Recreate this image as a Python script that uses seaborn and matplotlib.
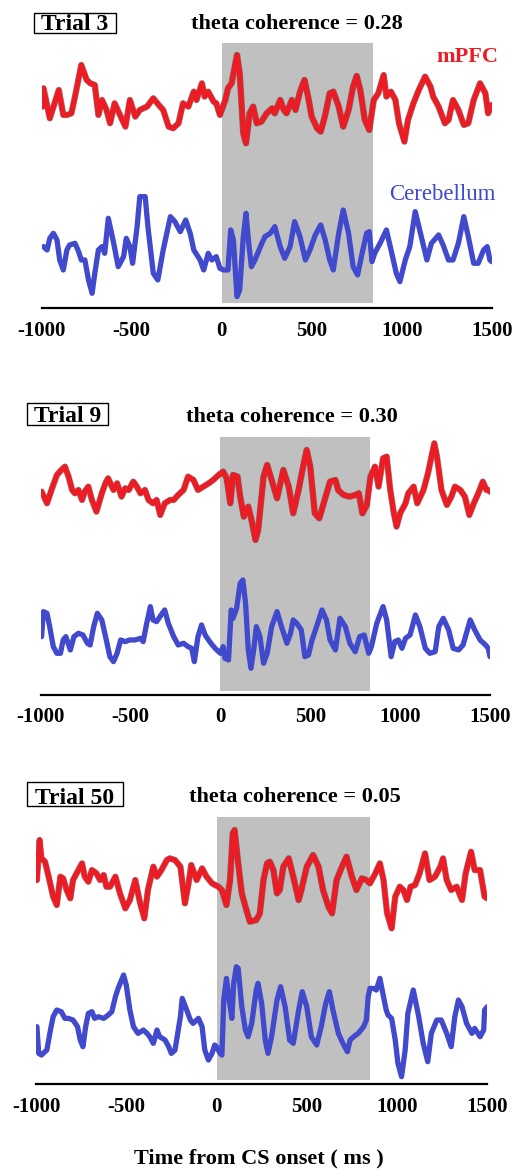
import numpy as np
import pandas as pd
import matplotlib
matplotlib.use("Agg")
import matplotlib.pyplot as plt
import matplotlib.patheffects as pe
from matplotlib.patches import Rectangle
import seaborn as sns

# ---------------- data (time in ms, amplitude in arbitrary units) ----------------
trials = ["Trial 3", "Trial 9", "Trial 50"]
coherence = ["0.28", "0.30", "0.05"]
cs_end = [840, 832, 850]
xticks = [-1000, -500, 0, 500, 1000, 1500]

t1_mpfc = [-995, -990, -955, -905, -880, -860, -835, -815, -780, -750, -730, -705, -685, -665, -640, -620,
           -595, -565, -535, -510, -480, -455, -415, -380, -350, -325, -295, -270, -240, -215, -185, -155,
           -140, -110, -95, -75, -45, -30, -10, 20, 35, 55, 85, 100, 120, 135, 155, 175, 195, 220, 250, 280,
           295, 325, 345, 360, 390, 410, 435, 460, 480, 500, 530, 550, 575, 600, 620, 650, 675, 705, 730,
           750, 770, 795, 820, 845, 870, 900, 915, 940, 965, 985, 1015, 1035, 1065, 1095, 1130, 1160, 1175,
           1205, 1240, 1260, 1285, 1315, 1345, 1370, 1400, 1435, 1465, 1480, 1500]
v1_mpfc = [0, 55, -35, 50, -25, -25, -20, 30, 125, 80, 70, 65, -25, 20, -10, -50,
           10, -25, -60, 20, -30, -10, 0, 25, 5, -10, -60, -65, -50, 10, 0, 45,
           20, 70, 30, 45, 15, 10, -25, 20, 55, 70, 155, 100, -80, -110, -20, 0, -50, -45, -20, -5,
           -20, 20, -10, -20, 20, -10, 45, 80, 30, -30, -65, -75, -25, 40, 45, 0, -60, -10, 60,
           92, 50, -40, -70, 20, 40, 95, 30, 45, 20, -50, -105, -40, 10, 50, 90, 60, 30,
           0, -50, -40, 20, -10, -55, -50, 20, 70, 40, -20, 5]

t1_cb = [-990, -970, -955, -935, -915, -900, -880, -860, -845, -815, -795, -780, -760, -740, -720, -705,
         -685, -665, -650, -630, -600, -575, -545, -530, -510, -495, -470, -455, -425, -410, -380, -355,
         -325, -285, -260, -230, -200, -175, -155, -120, -100, -75, -55, -30, -10, 10, 35, 50, 65, 85,
         100, 120, 135, 150, 165, 185, 215, 240, 270, 295, 325, 350, 380, 405, 435, 465, 490, 520, 550,
         575, 600, 620, 650, 675, 705, 730, 755, 780, 805, 820, 835, 850, 880, 915, 945, 970, 990,
         1020, 1045, 1075, 1100, 1140, 1165, 1205, 1230, 1260, 1285, 1315, 1345, 1370, 1400, 1425,
         1455, 1475, 1490, 1500]
v1_cb = [20, 10, 45, 60, 40, -20, -50, 10, 25, 30, 5, -20, -20, -80, -120, -60,
         10, 20, 0, 105, 30, -40, -10, 45, 20, -30, 80, 170, 170, 80, -60, -80,
         10, 110, 95, 65, 100, 60, 10, -20, -50, 0, -20, -10, -45, -50, -50, 70, 40, -130,
         -110, 50, 120, 30, -40, -20, 20, 50, 60, 80, 20, -15, 20, 95, 50, -20, 10, 55, 85,
         40, -20, -50, 60, 130, 60, -40, -65, 0, 60, 65, -25, 0, 30, 70, 0, -60, -85,
         -20, 20, 125, 70, -20, 30, 55, 25, -20, -20, 30, 110, 50, -30, -30,
         10, 20, -20, -25]

t2_mpfc = [-995, -965, -940, -910, -885, -865, -845, -825, -810, -790, -770, -755, -735, -715, -690, -660,
           -640, -625, -595, -575, -550, -530, -510, -485, -465, -445, -420, -400, -375, -355, -335, -310,
           -280, -260, -235, -205, -180, -150, -125, -95, -65, -40, -10, 15, 35, 55, 70, 95, 110, 130,
           155, 175, 195, 210, 240, 260, 285, 315, 350, 380, 405, 435, 460, 480, 500, 525, 550, 580,
           610, 640, 655, 685, 720, 750, 770, 790, 815, 835, 860, 880, 905, 925, 945, 965, 980, 1000,
           1030, 1045, 1075, 1095, 1130, 1155, 1190, 1205, 1230, 1260, 1285, 1305, 1335, 1360, 1385,
           1410, 1435, 1460, 1480, 1490, 1500]
v2_mpfc = [5, -30, 10, 55, 70, 80, 50, 10, 0, 10, -20, 5, 20, -20, -55, 0,
           30, 45, 10, 30, -10, 15, 10, 35, 20, 0, 10, -20, -30, -20, -65, -30,
           -20, -20, -5, 10, 50, 40, 10, 20, 30, 40, 55, 65, 45, -30, 55, 50, -10, -70,
           -40, -85, -140, -110, 50, 85, 40, -15, 70, 20, -60, 10, 80, 130, 80, -60, -75, -20,
           35, 40, 10, -5, -10, -5, 0, -60, -35, 50, 80, 20, 105, 110, 10, -60, -100, -60,
           -30, 0, 20, -30, 10, 60, 150, 110, 10, -35, -10, 20, 10, -10, -65,
           -30, 0, 35, 10, 10, 5]

t2_cb = [-995, -985, -965, -950, -930, -910, -890, -875, -860, -835, -815, -790, -765, -740, -725, -705,
         -685, -660, -635, -615, -595, -575, -555, -530, -505, -475, -445, -430, -410, -390, -375, -355,
         -330, -310, -290, -260, -235, -205, -180, -160, -145, -125, -105, -85, -60, -30, 0, 15, 25, 45,
         60, 70, 90, 110, 125, 140, 155, 170, 185, 200, 220, 240, 260, 285, 315, 340, 370, 390, 405,
         425, 450, 470, 490, 510, 535, 565, 590, 610, 640, 665, 695, 720, 750, 775, 800, 825, 840,
         870, 905, 925, 950, 970, 990, 1010, 1030, 1055, 1085, 1110, 1140, 1165, 1195, 1215, 1240,
         1270, 1295, 1325, 1350, 1390, 1415, 1445, 1475, 1490, 1500]
v2_cb = [20, 95, 90, 50, -10, -30, -30, 10, 20, -20, 20, 30, 25, 0, -5, 50,
         90, 70, 10, -40, -55, -30, 10, 5, 10, 10, 15, 5, 60, 110, 70, 65,
         85, 100, 60, 20, -5, 0, -10, -15, -55, 20, 55, 25, 5, -15, -30, -10, -45, -50,
         100, 75, 105, 180, 190, 120, -20, -75, -20, 50, 20, -60, -30, 50, 95, 50, 0, 30, 70,
         60, 40, -40, -35, 10, 50, 100, 70, 10, -20, 75, 50, 0, -25, 20, 25, -30, -10,
         60, 110, 70, -40, 5, 10, -15, 15, 25, 85, 50, -15, -30, -25, 50, 75,
         40, -15, -20, -5, 70, 40, 10, -5, -15, -40]

t3_mpfc = [-995, -980, -970, -950, -930, -905, -885, -865, -850, -830, -810, -795, -775, -745, -730, -710,
           -690, -665, -645, -625, -610, -590, -560, -535, -505, -480, -450, -425, -400, -380, -350, -330,
           -305, -275, -260, -230, -200, -175, -155, -140, -110, -80, -55, -25, 10, 30, 55, 75, 90, 100,
           120, 140, 160, 185, 220, 240, 260, 280, 295, 315, 335, 350, 370, 400, 425, 455, 470, 500,
           535, 565, 590, 620, 640, 665, 695, 720, 750, 775, 805, 830, 850, 880, 905, 925, 945, 970,
           990, 1015, 1035, 1055, 1075, 1100, 1125, 1155, 1180, 1210, 1240, 1255, 1275, 1300, 1330,
           1360, 1380, 1410, 1430, 1460, 1485, 1500]
v3_mpfc = [0, 120, 65, 55, 10, -50, -75, 10, 5, -30, -55, 0, 20, 50, 10, -5,
           30, 20, 0, 15, -20, -20, 10, -40, -85, -60, 0, -65, -115, -30, 40, 10,
           30, 60, 65, 60, 40, -70, -10, 45, 0, 35, 10, -10, -20, -30, -75, 0, 140, 150,
           50, -40, -80, -125, -120, -100, 0, 50, 55, 30, -40, -30, 40, 65, 10, -60, -30, 40,
           75, 40, -30, -80, -100, 0, 40, 70, 10, -30, 5, 0, -10, 20, 50, 0, -100, -145,
           -50, -20, -30, -60, -20, -15, 20, 80, 0, 10, 40, 65, 0, -30, -20,
           -60, 20, 85, 30, 30, -50, -55]

t3_cb = [-995, -985, -970, -940, -920, -905, -885, -860, -840, -820, -795, -770, -755, -740, -725, -710,
         -690, -675, -655, -625, -600, -580, -560, -545, -515, -500, -480, -460, -435, -405, -385, -370,
         -350, -330, -315, -285, -265, -250, -230, -200, -190, -165, -145, -130, -100, -80, -65, -45,
         -25, -10, 0, 20, 30, 40, 55, 70, 85, 95, 110, 120, 140, 160, 175, 195, 220, 230, 250, 270,
         285, 305, 335, 355, 380, 405, 425, 455, 475, 500, 525, 555, 580, 605, 625, 645, 675, 700,
         725, 740, 760, 785, 815, 830, 840, 850, 870, 885, 905, 925, 940, 950, 970, 990, 1005, 1025,
         1045, 1060, 1090, 1120, 1145, 1170, 1190, 1220, 1245, 1275, 1300, 1320, 1340, 1360, 1385,
         1415, 1430, 1460, 1480, 1485, 1500]
v3_cb = [0, -80, -85, -70, -10, 30, 50, 45, 25, 25, 20, 0, -40, -60, 0, 40,
         45, 25, 30, 25, 35, 45, 90, 115, 155, 125, 50, 0, -20, -10, -20, -30,
         -50, -10, -30, -40, -60, -80, -70, 30, 85, 50, 20, 10, 25, 0, -70, -100,
         -80, -55, -60, -80, -85, 80, 145, 80, 25, 130, 180, 175, 60, -10, -30, 10, 110, 130, 70, -40,
         -80, -30, 80, 120, 60, -40, -50, 50, 105, 60, -30, -55, 0, 70, 105, 50, -20, -50,
         -75, -40, -30, -20, 0, 20, 90, 115, 115, 110, 145, 90, 50, 35, 25, -40, -110, -150,
         -70, 40, 110, 30, -50, -105, -20, 20, 20, -20, -60, 30, 80, 60, 10,
         -20, -5, -30, -10, 50, 60]

# ---------------- style ----------------
sns.set_theme(style="white")
plt.rcParams["font.family"] = ["Liberation Serif", "DejaVu Serif"]
RED = "#EC1C24"
BLUE = "#4149CC"
GRAY = "#C0C0C0"

W, H = 516, 1172
fig = plt.figure(figsize=(W / 100, H / 100), dpi=100)


def fx(px):
    return px / W


def fy(py):
    return 1 - py / H


# panel geometry in pixels
panels = [
    dict(axis=308.3, base=253.3, top=40, left=41.7, right=491.7, red_off=440, gray=(-150, 630),
         t=(t1_mpfc, v1_mpfc, t1_cb, v1_cb), title=(297, 24), box=(34, 13, 116, 33)),
    dict(axis=695.0, base=643.3, top=430, left=40.7, right=490.0, red_off=450, gray=(-143, 620),
         t=(t2_mpfc, v2_mpfc, t2_cb, v2_cb), title=(292, 417), box=(27, 403, 108, 425)),
    dict(axis=1084.0, base=1026.7, top=810, left=36.0, right=487.3, red_off=440, gray=(-160, 628),
         t=(t3_mpfc, v3_mpfc, t3_cb, v3_cb), title=(294.5, 797), box=(27, 782, 123, 806)),
]

outline = [pe.Stroke(linewidth=4.6, foreground="#3a1a1a", alpha=0.5), pe.Normal()]

for i, p in enumerate(panels):
    ax = fig.add_axes([fx(p["left"]), fy(p["axis"]), (p["right"] - p["left"]) / W,
                       (p["axis"] - p["top"]) / H])
    ylo = -(p["axis"] - p["base"]) * 3
    yhi = (p["base"] - p["top"]) * 3
    ax.set_xlim(-1000, 1500)
    ax.set_ylim(ylo, yhi)
    ax.fill_between([0, cs_end[i]], p["gray"][0], p["gray"][1], color=GRAY, lw=0, zorder=0)

    tm, vm, tc, vc = p["t"]
    dm = pd.DataFrame({"t": tm, "v": np.array(vm) + p["red_off"]})
    dc = pd.DataFrame({"t": tc, "v": np.array(vc)})
    sns.lineplot(data=dc, x="t", y="v", ax=ax, color=BLUE, lw=3.8, estimator=None, sort=False,
                 solid_joinstyle="round", solid_capstyle="round", zorder=3)
    sns.lineplot(data=dm, x="t", y="v", ax=ax, color=RED, lw=3.8, estimator=None, sort=False,
                 solid_joinstyle="round", solid_capstyle="round", zorder=4,
                 path_effects=outline)

    for s in ["top", "right", "left"]:
        ax.spines[s].set_visible(False)
    ax.spines["bottom"].set_linewidth(1.6)
    ax.spines["bottom"].set_color("black")
    ax.set_yticks([])
    ax.set_xticks(xticks)
    ax.set_xticklabels([str(v) for v in xticks])
    ax.tick_params(axis="x", direction="in", length=4.5, width=1.5, colors="black", pad=9,
                   labelsize=15)
    for lab in ax.get_xticklabels():
        lab.set_fontweight("bold")
    ax.set_xlabel("")
    ax.set_ylabel("")
    ax.patch.set_alpha(0)

    fig.text(fx(p["title"][0]), fy(p["title"][1]), f"theta coherence = {coherence[i]}",
             ha="center", va="center", fontsize=16, fontweight="bold", color="black")
    x0, y0, x1, y1 = p["box"]
    fig.patches.append(Rectangle((fx(x0), fy(y1)), (x1 - x0) / W, (y1 - y0) / H,
                                 transform=fig.transFigure, fill=False, ec="black", lw=1.0))
    fig.text(fx((x0 + x1) / 2), fy(y1 - 2.5), trials[i], ha="center", va="baseline",
             fontsize=17, fontweight="bold", color="black")

fig.text(fx(467), fy(57), "mPFC", ha="center", va="center", fontsize=16, fontweight="bold",
         color=RED)
fig.text(fx(442), fy(195), "Cerebellum", ha="center", va="center", fontsize=16.5,
         color=BLUE)
fig.text(fx(259), fy(1158), "Time from CS onset ( ms )", ha="center", va="center",
         fontsize=16, fontweight="bold", color="black")

fig.savefig("out.png", dpi=100, facecolor="white")
